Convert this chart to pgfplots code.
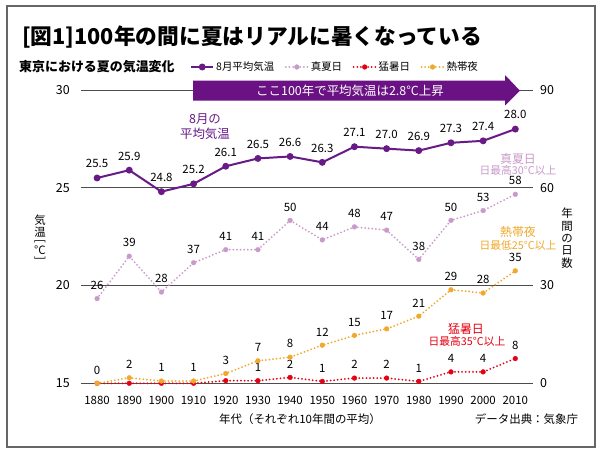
\documentclass[border=0pt]{standalone}
\usepackage{pgfplots}
\pgfplotsset{compat=1.18}
\usepackage{pgfplotstable}
\usepackage{graphicx}
\usepackage{fontspec}
\setmainfont{Noto Sans CJK JP}

\definecolor{tempc}{HTML}{681A87}
\definecolor{arrowc}{HTML}{6A1283}
\definecolor{lilac}{HTML}{C99AC9}
\definecolor{redc}{HTML}{E60012}
\definecolor{orangec}{HTML}{EFA92D}
\definecolor{gridc}{HTML}{4D4D4D}
\definecolor{framec}{HTML}{666666}

\pgfplotstableread{
year temp lab
1880 25.5 25.5
1890 25.9 25.9
1900 24.8 24.8
1910 25.2 25.2
1920 26.1 26.1
1930 26.5 26.5
1940 26.6 26.6
1950 26.3 26.3
1960 27.1 27.1
1970 27.0 27.0
1980 26.9 26.9
1990 27.3 27.3
2000 27.4 27.4
2010 28.0 28.0
}\temptable

\pgfplotstableread{
year d lab
1880 26 26
1890 39 39
1900 28 28
1910 37 37
1920 41 41
1930 41 41
1940 50 50
1950 44 44
1960 48 48
1970 47 47
1980 38 38
1990 50 50
2000 53 53
2010 58 58
}\manatsu

\pgfplotstableread{
year d lab
1880 0 {}
1890 0 {}
1900 0 {}
1910 0 {}
1920 0.8 {}
1930 0.8 1
1940 1.8 2
1950 0.6 1
1960 1.6 2
1970 1.6 2
1980 0.6 1
1990 3.5 4
2000 3.5 4
2010 7.6 8
}\mousho

\pgfplotstableread{
year d lab
1880 0 0
1890 1.7 2
1900 0.7 1
1910 0.7 1
1920 3.0 3
1930 6.9 7
1940 8.0 8
1950 11.7 12
1960 14.7 15
1970 16.7 17
1980 20.6 21
1990 28.7 29
2000 27.7 28
2010 34.5 35
}\nettai

\pgfplotsset{
  dotser/.style={#1, line width=2bp, line cap=round, dash pattern=on 0bp off 3.6bp,
    mark=*, mark size=2.4bp, mark options={solid, fill=#1, draw=#1, line width=0.3bp}},
  lbl/.style={nodes near coords={\pgfplotspointmeta}, point meta=explicit symbolic,
    every node near coord/.append style={font=\fontsize{11.5}{12}\selectfont, text=black,
      inner sep=0pt, anchor=south, yshift=9bp}},
}

\begin{document}
\begin{tikzpicture}
\useasboundingbox (0,0) rectangle (600bp,453bp);
\fill[white] (0,0) rectangle (600bp,453bp);
\draw[framec, line width=1.3bp] (7bp,6bp) rectangle (595bp,447bp);

\begin{axis}[at={(81bp,69.7bp)}, anchor=south west, scale only axis,
  width=452bp, height=293.3bp, xmin=1875, xmax=2015.5, ymin=15, ymax=30,
  clip=false, axis line style={draw=none}, tick style={draw=none},
  ymajorgrids, grid style={gridc, line width=0.9bp},
  xtick={1880,1890,...,2010}, ytick={15,20,25,30},
  yticklabel style={inner sep=0pt, anchor=east, xshift=-11bp, font=\fontsize{12.5}{12.5}\selectfont},
  xticklabel style={inner sep=0pt, anchor=north, yshift=-12.5bp, font=\fontsize{11.5}{12}\selectfont},
  /pgf/number format/1000 sep={}, /pgf/number format/assume math mode=true]
\addplot[tempc, line width=2bp, mark=*, mark size=2.4bp, lbl] table[x=year, y=temp, meta=lab] {\temptable};
\end{axis}

\begin{axis}[at={(81bp,69.7bp)}, anchor=south west, scale only axis,
  width=452bp, height=293.3bp, xmin=1875, xmax=2015.5, ymin=0, ymax=90,
  clip=false, hide x axis, axis y line*=right, y axis line style={draw=none},
  tick style={draw=none}, ytick={0,30,60,90},
  yticklabel style={inner sep=0pt, anchor=west, xshift=7bp, font=\fontsize{12.5}{12.5}\selectfont},
  /pgf/number format/assume math mode=true,
  legend columns=4,
  legend style={draw=none, fill=none, inner sep=0pt,
    at={(axis description cs:0.2412,1.0784)}, anchor=west,
    font=\fontsize{10.5}{11}\selectfont,
    /tikz/every even column/.append style={column sep=8.5bp}},
  legend image code/.code={\draw[mark repeat=2,mark phase=2,#1] plot coordinates {(0bp,0bp) (11bp,0bp) (22bp,0bp)};}]
\addlegendimage{tempc, line width=2bp, mark=*, mark size=2.4bp, mark options={solid}}
\addlegendentry{8月平均気温}
\addplot[dotser=lilac, lbl] table[x=year, y=d, meta=lab] {\manatsu};
\addlegendentry{真夏日}
\addplot[dotser=redc, lbl] table[x=year, y=d, meta=lab] {\mousho};
\addlegendentry{猛暑日}
\addplot[dotser=orangec, lbl] table[x=year, y=d, meta=lab] {\nettai};
\addlegendentry{熱帯夜}
\end{axis}

\begin{scope}[x=1bp, y=1bp]
\node[anchor=west, inner sep=0pt, font=\bfseries\fontsize{21.8}{22}\selectfont] at (22,416) {[図1]100年の間に夏はリアルに暑くなっている};
\node[anchor=west, inner sep=0pt, font=\bfseries\fontsize{13}{13}\selectfont] at (19,386) {東京における夏の気温変化};

\fill[arrowc] (193,372.3) -- (505,372.3) -- (505,378) -- (520,362.3) -- (505,347.5) -- (505,352.3) -- (193,352.3) -- cycle;
\node[white, inner sep=0pt, font=\fontsize{12.5}{12.5}\selectfont] at (350,362.3) {ここ100年で平均気温は2.8°C上昇};

\node[tempc, inner sep=0pt, font=\fontsize{12.5}{12.5}\selectfont] at (205,334) {8月の};
\node[tempc, inner sep=0pt, font=\fontsize{12.5}{12.5}\selectfont] at (205,319) {平均気温};

\node[lilac, inner sep=0pt, font=\fontsize{12}{12}\selectfont] at (518,294.3) {真夏日};
\node[lilac, inner sep=0pt, font=\fontsize{10.8}{11}\selectfont] at (518,283) {日最高30°C以上};
\node[orangec, inner sep=0pt, font=\fontsize{12}{12}\selectfont] at (518,221.3) {熱帯夜};
\node[orangec, inner sep=0pt, font=\fontsize{10.8}{11}\selectfont] at (518,208) {日最低25°C以上};
\node[redc, inner sep=0pt, font=\fontsize{12}{12}\selectfont] at (466,124) {猛暑日};
\node[redc, inner sep=0pt, font=\fontsize{10.8}{11}\selectfont] at (467,112) {日最高35°C以上};

\node[inner sep=0pt, font=\fontsize{11.5}{12}\selectfont] at (300,34) {年代（それぞれ10年間の平均）};
\node[inner sep=0pt, font=\fontsize{11.5}{12}\selectfont] at (526.5,34) {データ出典：気象庁};

\begin{scope}[every node/.style={inner sep=0pt, font=\fontsize{11.5}{12}\selectfont}]
\node at (40,233) {気};
\node at (40,221) {温};
\node at (40,212) {\rotatebox{-90}{[}};
\node at (40,203) {°C};
\node at (40,194.5) {\rotatebox{-90}{]}};
\end{scope}
\node[inner sep=0pt, align=center, font=\fontsize{11.5}{12.4}\selectfont] at (567,215) {年\\間\\の\\日\\数};
\end{scope}
\end{tikzpicture}
\end{document}
